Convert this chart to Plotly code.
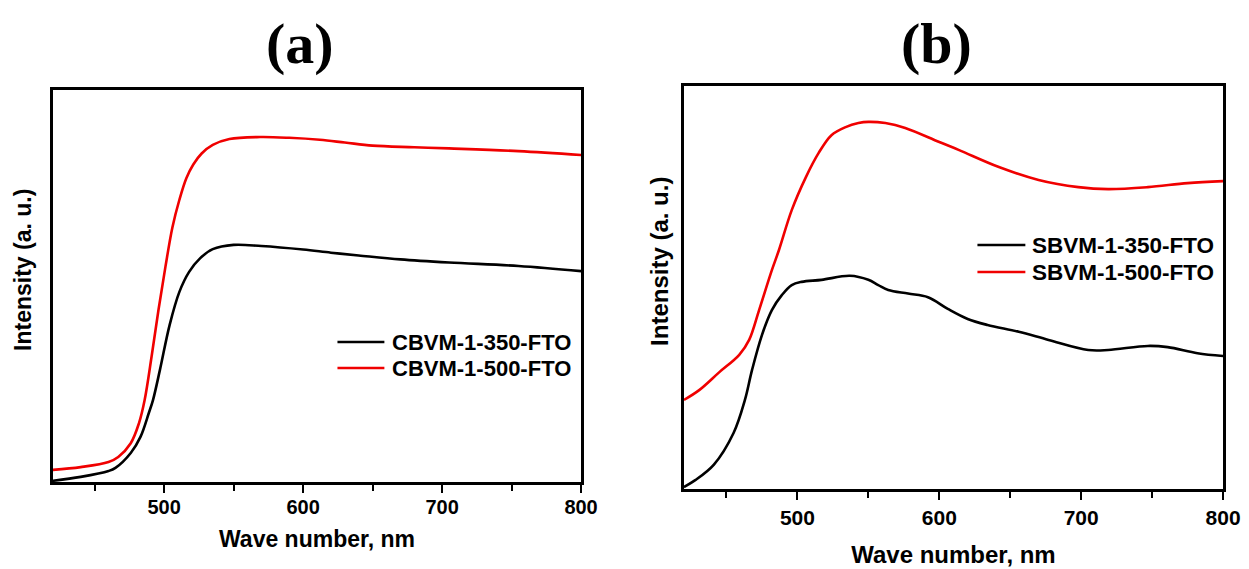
import plotly.graph_objects as go

# ---- (a) CBVM films on FTO ----
wl_a_500 = [420, 440, 460, 467, 476, 482, 486, 491, 496, 501, 506, 511, 516, 521,
            527, 535, 547, 569, 590, 612, 630, 650, 680, 705, 755, 800]
int_a_500 = [3.1, 3.8, 5.1, 6.4, 9.9, 15.1, 20.9, 32.0, 44.0, 55.0, 65.0, 72.0, 77.5,
             81.0, 83.8, 86.0, 87.5, 88.0, 87.8, 87.3, 86.6, 85.8, 85.4, 85.1, 84.4, 83.4]

wl_a_350 = [420, 440, 460, 465, 476, 483, 489, 492, 497, 504, 511, 518, 526, 535,
            550, 570, 600, 620, 640, 670, 705, 755, 800]
int_a_350 = [0.3, 1.3, 2.8, 3.6, 7.4, 11.5, 17.6, 20.9, 28.6, 40.1, 48.5, 53.6, 57.1,
             59.4, 60.5, 60.2, 59.3, 58.5, 57.8, 56.8, 56.0, 55.1, 53.8]

# ---- (b) SBVM films on FTO ----
wl_b_500 = [420, 431, 445, 459, 466, 473, 482, 487, 496, 506, 515, 524, 534, 543,
            550, 562, 576, 600, 614, 642, 670, 698, 719, 747, 775, 800]
int_b_500 = [22.1, 24.6, 29.0, 33.3, 37.0, 44.4, 54.3, 59.3, 69.2, 77.4, 83.4, 87.8,
             89.8, 90.8, 91.1, 90.8, 89.6, 86.1, 84.1, 79.9, 76.7, 74.9, 74.4, 74.9,
             75.9, 76.4]

wl_b_350 = [420, 428, 441, 455, 463, 468, 475, 482, 489, 496, 503, 517, 537, 550,
            557, 564, 578, 592, 606, 620, 634, 656, 677, 705, 719, 747, 761, 782, 800]
int_b_350 = [0.5, 2.2, 6.0, 13.9, 22.1, 29.5, 38.2, 44.4, 48.1, 50.6, 51.4, 51.9,
             52.9, 51.9, 50.6, 49.4, 48.5, 47.6, 44.7, 42.2, 40.7, 39.0, 37.0, 34.5,
             34.5, 35.5, 35.2, 33.7, 33.0]

labels_a = ["CBVM-1-350-FTO", "CBVM-1-500-FTO"]
labels_b = ["SBVM-1-350-FTO", "SBVM-1-500-FTO"]
panel_tags = ["(a)", "(b)"]
x_title = "Wave number, nm"
y_title = "Intensity (a. u.)"

# Layout positions below are given in a 1249 x 569 pixel frame
FRAME_W, FRAME_H = 1249, 569
W, H = 1265, 569
BLACK = "#000000"
RED = "#f00000"
SANS = "Liberation Sans, Arial, sans-serif"
SERIF = "Liberation Serif, Times New Roman, serif"


def px_x(p):
    return p / FRAME_W


def px_y(p):
    return 1 - p / FRAME_H


fig = go.Figure()

line_kw = dict(mode="lines", line_shape="spline", showlegend=False)
series = [
    (wl_a_350, int_a_350, BLACK, "x", "y"),
    (wl_a_500, int_a_500, RED, "x", "y"),
    (wl_b_350, int_b_350, BLACK, "x2", "y2"),
    (wl_b_500, int_b_500, RED, "x2", "y2"),
]
names = labels_a + labels_b
for (xs, ys, col, xr, yr), nm in zip(series, names):
    fig.add_trace(go.Scatter(x=xs, y=ys, name=nm, xaxis=xr, yaxis=yr,
                             line=dict(color=col, width=2.6, smoothing=1.0), **line_kw))


def x_axis(domain, anchor, size, standoff, label_shift):
    return dict(
        domain=domain, anchor=anchor, range=[420, 800],
        showline=True, mirror=True, linecolor=BLACK, linewidth=2.6,
        showgrid=False, zeroline=False,
        ticks="outside", ticklen=8, tickwidth=2, tickcolor=BLACK,
        tick0=0, dtick=100, ticklabelstandoff=label_shift,
        minor=dict(ticks="outside", ticklen=6, tickwidth=2, tickcolor=BLACK, dtick=50, tick0=0, showgrid=False),
        tickfont=dict(family=SANS, size=size, color=BLACK, weight="bold"),
        title=dict(text=x_title, standoff=standoff,
                   font=dict(family=SANS, size=size + 3, color=BLACK, weight="bold")),
    )


def y_axis(domain, anchor):
    return dict(
        domain=domain, anchor=anchor, range=[0, 100],
        showline=True, mirror=True, linecolor=BLACK, linewidth=2.6,
        showgrid=False, zeroline=False, showticklabels=False, ticks="",
    )


fig.update_layout(
    width=W, height=H, autosize=False,
    margin=dict(l=0, r=0, t=0, b=0),
    paper_bgcolor="white", plot_bgcolor="white",
    xaxis=x_axis([px_x(53), px_x(582)], "y", 20, 15, -3),
    yaxis=y_axis([px_y(482), px_y(90)], "x"),
    xaxis2=x_axis([px_x(685), px_x(1225)], "y2", 21, 19, 0),
    yaxis2=y_axis([px_y(489), px_y(86)], "x2"),
    showlegend=False,
)

# Legend rows: line sample + label, one block per panel
legend_blocks = [
    (labels_a, [BLACK, RED], 338, 385, 391, [342, 368], 22),
    (labels_b, [BLACK, RED], 979, 1027, 1032, [245, 272], 22.5),
]
for texts, cols, lx0, lx1, tx, rows, fsize in legend_blocks:
    for text, col, ry in zip(texts, cols, rows):
        fig.add_shape(type="line", xref="paper", yref="paper",
                      x0=px_x(lx0), x1=px_x(lx1), y0=px_y(ry), y1=px_y(ry),
                      line=dict(color=col, width=2.6))
        fig.add_annotation(text=text, xref="paper", yref="paper", x=px_x(tx), y=px_y(ry),
                           xanchor="left", yanchor="middle", showarrow=False,
                           font=dict(family=SANS, size=fsize, color=BLACK, weight="bold"))

# Panel tags and rotated y-axis titles
for tag, cx in zip(panel_tags, [300, 938]):
    fig.add_annotation(text=tag, xref="paper", yref="paper", x=px_x(cx), y=px_y(43),
                       xanchor="center", yanchor="middle", showarrow=False,
                       font=dict(family=SERIF, size=58, color=BLACK, weight="bold"))

for cx, cy, size in [(23, 270, 23), (660, 261, 24)]:
    fig.add_annotation(text=y_title, xref="paper", yref="paper", x=px_x(cx), y=px_y(cy),
                       xanchor="center", yanchor="middle", showarrow=False, textangle=-90,
                       font=dict(family=SANS, size=size, color=BLACK, weight="bold"))

fig.write_html("out.html", config={"responsive": False})
